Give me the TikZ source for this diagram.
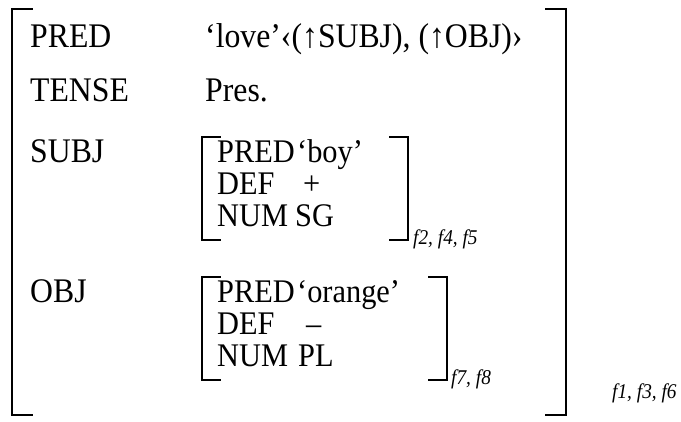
\documentclass[tikz,border=0pt]{standalone}
\usepackage{fontspec}
\setmainfont{Liberation Serif}[FakeStretch=0.92]
\usetikzlibrary{positioning,calc}

\begin{document}
\begin{tikzpicture}[
    x=1pt, y=-1pt,
    attr/.style={anchor=base west, inner sep=0pt, font=\fontsize{34.5}{40}\selectfont},
    inner attr/.style={attr, font=\fontsize{33}{38}\selectfont},
    tag/.style={anchor=base west, inner sep=0pt, font=\fontsize{21}{25}\selectfont\itshape},
    brack/.style={draw=black, line width=2.6pt, line cap=rect}
]
\useasboundingbox (0,0) rectangle (681,421);

% outer f-structure
\node[attr] (pred) at (30,47) {PRED};
\node[attr] (predval) at (205,47) {‘love’‹(↑SUBJ), (↑OBJ)›};
\node[attr] (tense) at (30,101) {TENSE};
\node[attr] (tenseval) at (205,101) {Pres.};
\node[attr] (subj) at (30,162) {SUBJ};
\node[attr] (obj) at (30,302) {OBJ};

% SUBJ value
\node[inner attr] (spred) at (217,162) {PRED};
\node[inner attr] (sdef) at (217,194) {DEF};
\node[inner attr] (snum) at (217,226) {NUM};
\node[inner attr] (spredval) at (297,162) {‘boy’};
\node[inner attr] (sdefval) at (303,194) {+};
\node[inner attr] (snumval) at (295,226) {SG};

% OBJ value
\node[inner attr] (opred) at (217,302) {PRED};
\node[inner attr] (odef) at (217,334) {DEF};
\node[inner attr] (onum) at (217,366) {NUM};
\node[inner attr] (opredval) at (297,302) {‘orange’};
\node[inner attr] (odefval) at (306,334) {–};
\node[inner attr] (onumval) at (298,366) {PL};

% indices
\node[tag] (stag) at (413,244) {f2, f4, f5};
\node[tag] (otag) at (451,384) {f7, f8};
\node[tag] (ftag) at (612,398) {f1, f3, f6};

% brackets
\draw[brack] (32,9) -- (12,9) -- (12,415) -- (32,415);
\draw[brack] (546,9) -- (566,9) -- (566,415) -- (546,415);
\draw[brack] (220,137) -- (202,137) -- (202,240) -- (220,240);
\draw[brack] (390,137) -- (408,137) -- (408,240) -- (390,240);
\draw[brack] (220,277) -- (202,277) -- (202,380) -- (220,380);
\draw[brack] (429,277) -- (447,277) -- (447,380) -- (429,380);

\end{tikzpicture}
\end{document}
